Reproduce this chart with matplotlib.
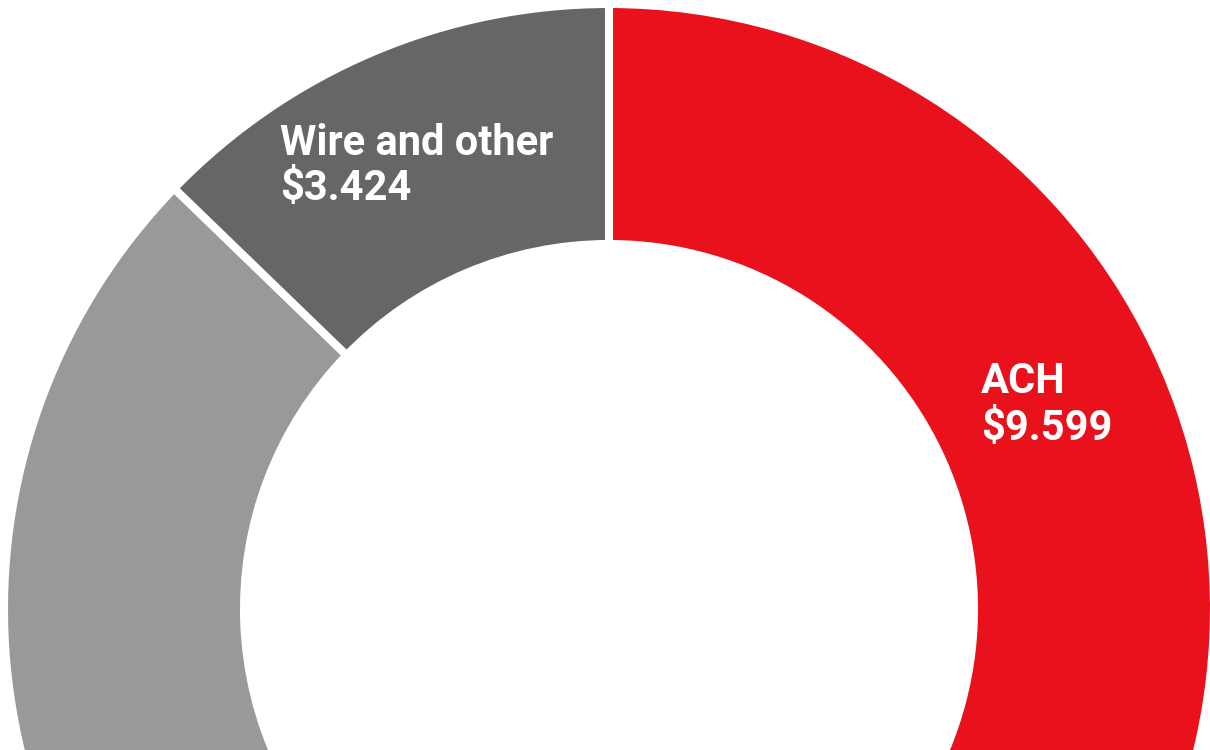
import matplotlib.pyplot as plt

# values in $ (only part of the ring is visible in the crop)
labels = ["ACH", "Other", "Wire and other"]
values = [9.599, 13.8, 3.424]
colors = ["#E8111C", "#999999", "#666666"]
shown = ["ACH", "Wire and other"]
amounts = {"ACH": "$9.599", "Wire and other": "$3.424"}

plt.rcParams['font.family'] = ['Roboto', 'DejaVu Sans']

fig = plt.figure(figsize=(12.1, 7.5), dpi=100)
ax = fig.add_axes([0, 0, 1, 1])

px = 601.0  # pixels per data unit
ax.pie(values, colors=colors, startangle=90, counterclock=False,
       radius=605 / px, center=(0, 0),
       wedgeprops=dict(width=240 / px, edgecolor="white", linewidth=5.8))

# label anchor points (left x, baseline of first line, baseline of second)
text_pos = {"ACH": (981, 393, 440), "Wire and other": (280, 155, 200)}
for name in shown:
    x, y1, y2 = text_pos[name]
    ax.text((x - 609) / px, (609 - y1) / px, name, color="white",
            fontsize=30, fontweight="bold", ha="left", va="baseline")
    ax.text((x - 609) / px, (609 - y2) / px, amounts[name], color="white",
            fontsize=30, fontweight="bold", ha="left", va="baseline")

ax.set_xlim(-609 / px, (1210 - 609) / px)
ax.set_ylim((609 - 750) / px, 609 / px)
ax.set_aspect("auto")
ax.axis("off")

fig.savefig("out.png", dpi=100)
